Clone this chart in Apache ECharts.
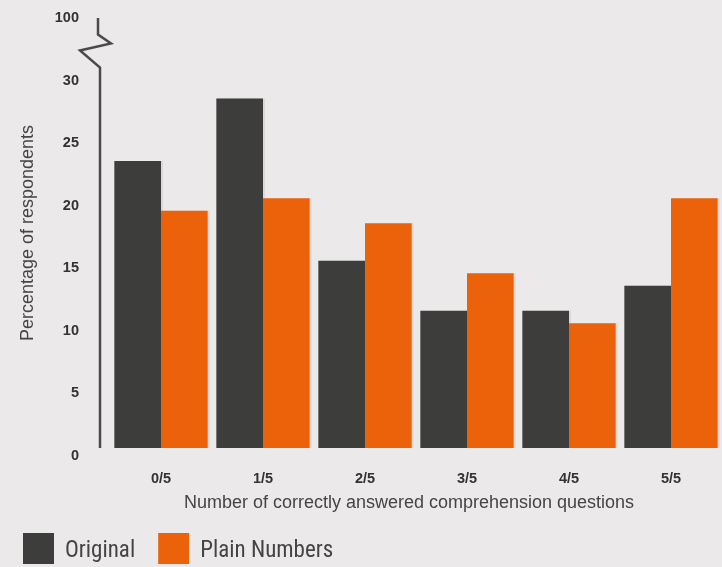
<!DOCTYPE html>
<html>
<head>
<meta charset="utf-8">
<script src="https://cdn.jsdelivr.net/npm/echarts@6/dist/echarts.min.js"></script>
<style>
  html, body { margin: 0; padding: 0; background: #ebe9ea; }
  #chart { width: 722px; height: 567px; }
</style>
</head>
<body>
<div id="chart"></div>
<script>
// Share of respondents by number of correctly answered questions
const categories = ['0/5', '1/5', '2/5', '3/5', '4/5', '5/5'];
const originalValues = [23, 28, 15, 11, 11, 13];
const plainNumbersValues = [19, 20, 18, 14, 10, 20];
const seriesNames = ['Original', 'Plain Numbers'];

// Broken value axis: 0–30 shown in full, then a jump to 100
const yMin = 0;
const yMax = 100;
const yInterval = 5;
const breakStart = 30;
const breakEnd = 100;

const BG = '#ebe9ea';
const DARK = '#3d3d3b';
const ORANGE = '#ec620b';
const AXIS = '#4a4a4a';
const GRID_LEFT = 110;
const Y_OFFSET = 10;
const SANS = '"Liberation Sans", Arial, sans-serif';
const NARROW = '"Liberation Sans Narrow", "Arial Narrow", "Roboto Condensed", sans-serif';

const chart = echarts.init(document.getElementById('chart'), null, { renderer: 'canvas' });

const option = {
  backgroundColor: BG,
  animation: false,
  textStyle: { fontFamily: SANS },
  grid: { left: GRID_LEFT, right: 0, top: 10, bottom: 119, containLabel: false },
  legend: {
    left: 18,
    top: 528,
    itemWidth: 31,
    itemHeight: 31,
    itemGap: 23,
    icon: 'rect',
    formatter: '{t|{name}}',
    textStyle: {
      fontSize: 23, color: '#444', fontFamily: NARROW,
      rich: { t: { fontSize: 23, color: '#444', fontFamily: NARROW, padding: [6, 0, 0, 6] } }
    },
    data: seriesNames
  },
  xAxis: {
    type: 'category',
    data: categories,
    axisLine: { show: false },
    axisTick: { show: false },
    axisLabel: { color: '#333', fontSize: 14.5, fontWeight: 'bold', margin: 23 },
    name: 'Number of correctly answered comprehension questions',
    nameLocation: 'middle',
    nameGap: 46,
    nameTextStyle: { fontSize: 18, color: '#454545', padding: [0, 14, 0, 0] }
  },
  yAxis: {
    type: 'value',
    min: yMin,
    max: yMax,
    interval: yInterval,
    offset: Y_OFFSET,
    breaks: [{ start: breakStart, end: breakEnd, gap: '14.5%' }],
    breakArea: { show: false },
    axisLine: { show: false },
    axisTick: { show: false },
    splitLine: { show: false },
    axisLabel: { color: '#333', fontSize: 14.5, fontWeight: 'bold', margin: 21, verticalAlign: 'top' },
    name: 'Percentage of respondents',
    nameLocation: 'middle',
    nameGap: 63,
    nameTextStyle: { fontSize: 18, color: '#454545', padding: [0, 8, 0, 0] }
  },
  series: [
    {
      name: seriesNames[0],
      type: 'bar',
      data: originalValues,
      barGap: '0%',
      barCategoryGap: '8.5%',
      itemStyle: { color: DARK, shadowColor: 'rgba(0,0,0,0.07)', shadowOffsetX: 2, shadowBlur: 0 }
    },
    {
      name: seriesNames[1],
      type: 'bar',
      data: plainNumbersValues,
      barGap: '0%',
      barCategoryGap: '8.5%',
      itemStyle: { color: ORANGE, shadowColor: 'rgba(0,0,0,0.07)', shadowOffsetX: 2, shadowBlur: 0 }
    }
  ]
};

chart.setOption(option);

// Axis line with a zigzag marking the scale break
const ax = GRID_LEFT - Y_OFFSET;
const y0 = chart.convertToPixel({ yAxisIndex: 0 }, 0);
const yb = chart.convertToPixel({ yAxisIndex: 0 }, breakStart) - 6;
const yt = chart.convertToPixel({ yAxisIndex: 0 }, breakEnd);
chart.setOption({
  graphic: [{
    type: 'polyline',
    shape: {
      points: [
        [ax, y0], [ax, yb],
        [ax - 20, yb - 17], [ax + 11, yb - 24], [ax - 2, yb - 33],
        [ax - 2, yt + 8]
      ]
    },
    style: { stroke: AXIS, lineWidth: 2.5, fill: null, lineJoin: 'miter' },
    z: 10
  }]
});
</script>
</body>
</html>
